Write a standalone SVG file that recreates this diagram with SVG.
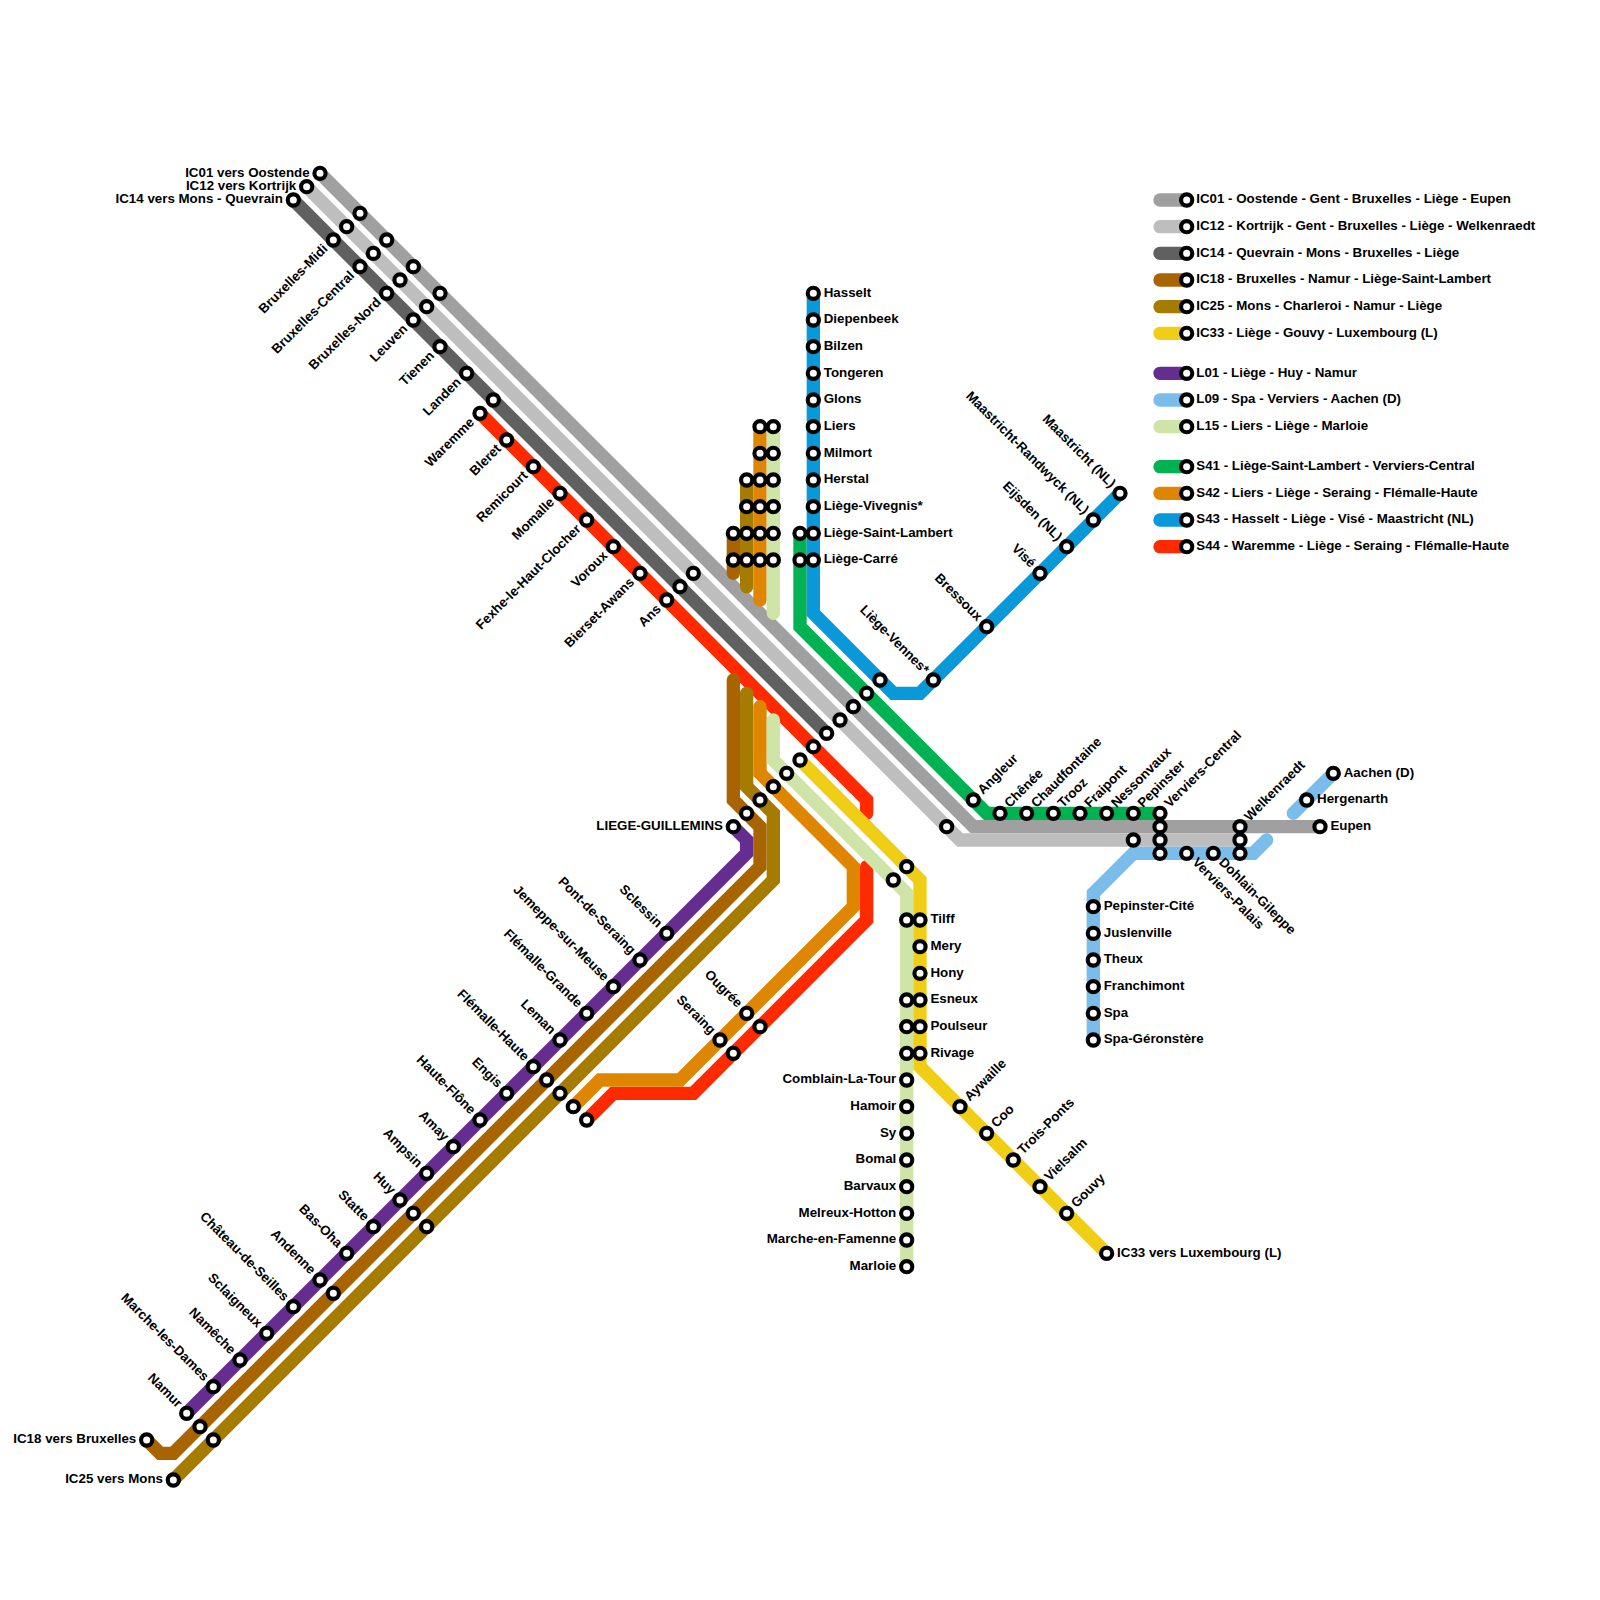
<svg xmlns="http://www.w3.org/2000/svg" width="1600" height="1600" viewBox="0 0 1600 1600">
<style>
.ln{fill:none;stroke-width:1;stroke-linecap:round;stroke-linejoin:miter}
.ic01{stroke:#a0a0a0}.ic12{stroke:#bebebe}.ic14{stroke:#606060}.ic18{stroke:#a86400}.ic25{stroke:#a67c00}.ic33{stroke:#f0ce15}
.l01{stroke:#662d91}.l09{stroke:#7bbdea}.l15{stroke:#cfe4a7}.s41{stroke:#00b251}.s42{stroke:#df8600}.s43{stroke:#0998d8}.s44{stroke:#ff2a00}
.st{fill:#fff;stroke:#000;stroke-width:.31}
text{font-family:"Liberation Sans",Arial,sans-serif;font-weight:700;font-size:1px;fill:#000}
.r{text-anchor:start}.e{text-anchor:end}
</style>
<defs><circle id="s" class="st" r=".42"/></defs>
<g transform="scale(13.33333)">
<g id="connectors">
<path class="ln ic01" d="M24 13L73 62H99"/>
<path class="ln ic12" d="M23 14L72 63H93"/>
<path class="ln ic14" d="M22 15L62 55"/>
<path class="ln s44" d="M36 31L65 60V61"/>
<path class="ln s44" d="M65 65V69L52 82H46L44 84"/>
<path class="ln ic18" d="M55 40V43"/>
<path class="ln ic18" d="M55 51V60L57 62V65L13 109H12L11 108"/>
<path class="ln ic25" d="M56 36V44"/>
<path class="ln ic25" d="M56 52V59L58 61V66L13 111"/>
<path class="ln s42" d="M57 32V45"/>
<path class="ln s42" d="M57 53V58L64 65V68L51 81H45L43 83"/>
<path class="ln l15" d="M58 32V46"/>
<path class="ln l15" d="M58 54V57L68 67V95"/>
<path class="ln ic33" d="M60 57L69 66V80L83 94"/>
<path class="ln l01" d="M55 62L56 63V64L14 106"/>
<path class="ln l09" d="M82 78V67L85 64H94L95 63"/>
<path class="ln l09" d="M97 61L100 58"/>
<path class="ln s41" d="M60 40V47L74 61H87"/>
<path class="ln s43" d="M61 22V46L67 52H69L84 37"/>
</g>
<g id="legend">
<g id="lg-ic01" transform="translate(89 15)"><path class="ln ic01" d="M-2 0H0"/><use href="#s"/><text x=".72" y=".25">IC01 - Oostende - Gent - Bruxelles - Liège - Eupen</text></g>
<g id="lg-ic12" transform="translate(89 17)"><path class="ln ic12" d="M-2 0H0"/><use href="#s"/><text x=".72" y=".25">IC12 - Kortrijk - Gent - Bruxelles - Liège - Welkenraedt</text></g>
<g id="lg-ic14" transform="translate(89 19)"><path class="ln ic14" d="M-2 0H0"/><use href="#s"/><text x=".72" y=".25">IC14 - Quevrain - Mons - Bruxelles - Liège</text></g>
<g id="lg-ic18" transform="translate(89 21)"><path class="ln ic18" d="M-2 0H0"/><use href="#s"/><text x=".72" y=".25">IC18 - Bruxelles - Namur - Liège-Saint-Lambert</text></g>
<g id="lg-ic25" transform="translate(89 23)"><path class="ln ic25" d="M-2 0H0"/><use href="#s"/><text x=".72" y=".25">IC25 - Mons - Charleroi - Namur - Liège</text></g>
<g id="lg-ic33" transform="translate(89 25)"><path class="ln ic33" d="M-2 0H0"/><use href="#s"/><text x=".72" y=".25">IC33 - Liège - Gouvy - Luxembourg (L)</text></g>
<g id="lg-l01" transform="translate(89 28)"><path class="ln l01" d="M-2 0H0"/><use href="#s"/><text x=".72" y=".25">L01 - Liège - Huy - Namur</text></g>
<g id="lg-l09" transform="translate(89 30)"><path class="ln l09" d="M-2 0H0"/><use href="#s"/><text x=".72" y=".25">L09 - Spa - Verviers - Aachen (D)</text></g>
<g id="lg-l15" transform="translate(89 32)"><path class="ln l15" d="M-2 0H0"/><use href="#s"/><text x=".72" y=".25">L15 - Liers - Liège - Marloie</text></g>
<g id="lg-s41" transform="translate(89 35)"><path class="ln s41" d="M-2 0H0"/><use href="#s"/><text x=".72" y=".25">S41 - Liège-Saint-Lambert - Verviers-Central</text></g>
<g id="lg-s42" transform="translate(89 37)"><path class="ln s42" d="M-2 0H0"/><use href="#s"/><text x=".72" y=".25">S42 - Liers - Liège - Seraing - Flémalle-Haute</text></g>
<g id="lg-s43" transform="translate(89 39)"><path class="ln s43" d="M-2 0H0"/><use href="#s"/><text x=".72" y=".25">S43 - Hasselt - Liège - Visé - Maastricht (NL)</text></g>
<g id="lg-s44" transform="translate(89 41)"><path class="ln s44" d="M-2 0H0"/><use href="#s"/><text x=".72" y=".25">S44 - Waremme - Liège - Seraing - Flémalle-Haute</text></g>
</g>
<g id="stations">
<g id="n-ic01-oostende" transform="translate(24 13)"><use href="#s"/><text class="e" x="-.78" y=".25">IC01 vers Oostende</text></g>
<g id="n-ic12-kortrijk" transform="translate(23 14)"><use href="#s"/><text class="e" x="-.78" y=".25">IC12 vers Kortrijk</text></g>
<g id="n-ic14-mons" transform="translate(22 15)"><use href="#s"/><text class="e" x="-.78" y=".25">IC14 vers Mons - Quevrain</text></g>
<g id="n-ic01-a" transform="translate(27 16)"><use href="#s"/></g>
<g id="n-ic01-b" transform="translate(29 18)"><use href="#s"/></g>
<g id="n-ic01-c" transform="translate(31 20)"><use href="#s"/></g>
<g id="n-ic01-d" transform="translate(33 22)"><use href="#s"/></g>
<g id="n-ic12-a" transform="translate(26 17)"><use href="#s"/></g>
<g id="n-ic12-b" transform="translate(28 19)"><use href="#s"/></g>
<g id="n-ic12-c" transform="translate(30 21)"><use href="#s"/></g>
<g id="n-ic12-d" transform="translate(32 23)"><use href="#s"/></g>
<g id="n-bxl-midi" transform="translate(25 18)"><use href="#s"/><text class="e" transform="rotate(-45)" x="-.78" y=".25">Bruxelles-Midi</text></g>
<g id="n-bxl-central" transform="translate(27 20)"><use href="#s"/><text class="e" transform="rotate(-45)" x="-.78" y=".25">Bruxelles-Central</text></g>
<g id="n-bxl-nord" transform="translate(29 22)"><use href="#s"/><text class="e" transform="rotate(-45)" x="-.78" y=".25">Bruxelles-Nord</text></g>
<g id="n-leuven" transform="translate(31 24)"><use href="#s"/><text class="e" transform="rotate(-45)" x="-.78" y=".25">Leuven</text></g>
<g id="n-tienen" transform="translate(33 26)"><use href="#s"/><text class="e" transform="rotate(-45)" x="-.78" y=".25">Tienen</text></g>
<g id="n-landen" transform="translate(35 28)"><use href="#s"/><text class="e" transform="rotate(-45)" x="-.78" y=".25">Landen</text></g>
<g id="n-ic14-waremme" transform="translate(37 30)"><use href="#s"/></g>
<g id="n-waremme" transform="translate(36 31)"><use href="#s"/><text class="e" transform="rotate(-45)" x="-.78" y=".25">Waremme</text></g>
<g id="n-bleret" transform="translate(38 33)"><use href="#s"/><text class="e" transform="rotate(-45)" x="-.78" y=".25">Bleret</text></g>
<g id="n-remicourt" transform="translate(40 35)"><use href="#s"/><text class="e" transform="rotate(-45)" x="-.78" y=".25">Remicourt</text></g>
<g id="n-momalle" transform="translate(42 37)"><use href="#s"/><text class="e" transform="rotate(-45)" x="-.78" y=".25">Momalle</text></g>
<g id="n-fexhe" transform="translate(44 39)"><use href="#s"/><text class="e" transform="rotate(-45)" x="-.78" y=".25">Fexhe-le-Haut-Clocher</text></g>
<g id="n-voroux" transform="translate(46 41)"><use href="#s"/><text class="e" transform="rotate(-45)" x="-.78" y=".25">Voroux</text></g>
<g id="n-bierset" transform="translate(48 43)"><use href="#s"/><text class="e" transform="rotate(-45)" x="-.78" y=".25">Bierset-Awans</text></g>
<g id="n-ans" transform="translate(50 45)"><use href="#s"/><text class="e" transform="rotate(-45)" x="-.78" y=".25">Ans</text></g>
<g id="n-ic14-ans" transform="translate(51 44)"><use href="#s"/></g>
<g id="n-ic12-ans" transform="translate(52 43)"><use href="#s"/></g>
<g id="n-guillemins" transform="translate(55 62)"><use href="#s"/><text class="e" x="-.78" y=".25">LIEGE-GUILLEMINS</text></g>
<g id="n-g-ic18" transform="translate(56 61)"><use href="#s"/></g>
<g id="n-g-ic25" transform="translate(57 60)"><use href="#s"/></g>
<g id="n-g-s42" transform="translate(58 59)"><use href="#s"/></g>
<g id="n-g-l15" transform="translate(59 58)"><use href="#s"/></g>
<g id="n-g-ic33" transform="translate(60 57)"><use href="#s"/></g>
<g id="n-g-s44" transform="translate(61 56)"><use href="#s"/></g>
<g id="n-g-ic14" transform="translate(62 55)"><use href="#s"/></g>
<g id="n-g-ic12" transform="translate(63 54)"><use href="#s"/></g>
<g id="n-g-ic01" transform="translate(64 53)"><use href="#s"/></g>
<g id="n-g-s41" transform="translate(65 52)"><use href="#s"/></g>
<g id="n-g-s43" transform="translate(66 51)"><use href="#s"/></g>
<g id="n-ic18-sl" transform="translate(55 40)"><use href="#s"/></g>
<g id="n-ic18-ca" transform="translate(55 42)"><use href="#s"/></g>
<g id="n-ic25-he" transform="translate(56 36)"><use href="#s"/></g>
<g id="n-ic25-vi" transform="translate(56 38)"><use href="#s"/></g>
<g id="n-ic25-sl" transform="translate(56 40)"><use href="#s"/></g>
<g id="n-ic25-ca" transform="translate(56 42)"><use href="#s"/></g>
<g id="n-s42-li" transform="translate(57 32)"><use href="#s"/></g>
<g id="n-s42-mi" transform="translate(57 34)"><use href="#s"/></g>
<g id="n-s42-he" transform="translate(57 36)"><use href="#s"/></g>
<g id="n-s42-vi" transform="translate(57 38)"><use href="#s"/></g>
<g id="n-s42-sl" transform="translate(57 40)"><use href="#s"/></g>
<g id="n-s42-ca" transform="translate(57 42)"><use href="#s"/></g>
<g id="n-l15-li" transform="translate(58 32)"><use href="#s"/></g>
<g id="n-l15-mi" transform="translate(58 34)"><use href="#s"/></g>
<g id="n-l15-he" transform="translate(58 36)"><use href="#s"/></g>
<g id="n-l15-vi" transform="translate(58 38)"><use href="#s"/></g>
<g id="n-l15-sl" transform="translate(58 40)"><use href="#s"/></g>
<g id="n-l15-ca" transform="translate(58 42)"><use href="#s"/></g>
<g id="n-s41-sl" transform="translate(60 40)"><use href="#s"/></g>
<g id="n-s41-ca" transform="translate(60 42)"><use href="#s"/></g>
<g id="n-hasselt" transform="translate(61 22)"><use href="#s"/><text x=".78" y=".25">Hasselt</text></g>
<g id="n-diepenbeek" transform="translate(61 24)"><use href="#s"/><text x=".78" y=".25">Diepenbeek</text></g>
<g id="n-bilzen" transform="translate(61 26)"><use href="#s"/><text x=".78" y=".25">Bilzen</text></g>
<g id="n-tongeren" transform="translate(61 28)"><use href="#s"/><text x=".78" y=".25">Tongeren</text></g>
<g id="n-glons" transform="translate(61 30)"><use href="#s"/><text x=".78" y=".25">Glons</text></g>
<g id="n-liers" transform="translate(61 32)"><use href="#s"/><text x=".78" y=".25">Liers</text></g>
<g id="n-milmort" transform="translate(61 34)"><use href="#s"/><text x=".78" y=".25">Milmort</text></g>
<g id="n-herstal" transform="translate(61 36)"><use href="#s"/><text x=".78" y=".25">Herstal</text></g>
<g id="n-vivegnis" transform="translate(61 38)"><use href="#s"/><text x=".78" y=".25">Liège-Vivegnis*</text></g>
<g id="n-saint-lambert" transform="translate(61 40)"><use href="#s"/><text x=".78" y=".25">Liège-Saint-Lambert</text></g>
<g id="n-carre" transform="translate(61 42)"><use href="#s"/><text x=".78" y=".25">Liège-Carré</text></g>
<g id="n-vennes" transform="translate(70 51)"><use href="#s"/><text class="e" transform="rotate(45)" x="-.78" y=".25">Liège-Vennes*</text></g>
<g id="n-bressoux" transform="translate(74 47)"><use href="#s"/><text class="e" transform="rotate(45)" x="-.78" y=".25">Bressoux</text></g>
<g id="n-vise" transform="translate(78 43)"><use href="#s"/><text class="e" transform="rotate(45)" x="-.78" y=".25">Visé</text></g>
<g id="n-eijsden" transform="translate(80 41)"><use href="#s"/><text class="e" transform="rotate(45)" x="-.78" y=".25">Eijsden (NL)</text></g>
<g id="n-randwyck" transform="translate(82 39)"><use href="#s"/><text class="e" transform="rotate(45)" x="-.78" y=".25">Maastricht-Randwyck (NL)</text></g>
<g id="n-maastricht" transform="translate(84 37)"><use href="#s"/><text class="e" transform="rotate(45)" x="-.78" y=".25">Maastricht (NL)</text></g>
<g id="n-angleur" transform="translate(73 60)"><use href="#s"/><text transform="rotate(-45)" x=".78" y=".25">Angleur</text></g>
<g id="n-ic12-angleur" transform="translate(71 62)"><use href="#s"/></g>
<g id="n-chenee" transform="translate(75 61)"><use href="#s"/><text transform="rotate(-45)" x=".78" y=".25">Chênée</text></g>
<g id="n-chaudfontaine" transform="translate(77 61)"><use href="#s"/><text transform="rotate(-45)" x=".78" y=".25">Chaudfontaine</text></g>
<g id="n-trooz" transform="translate(79 61)"><use href="#s"/><text transform="rotate(-45)" x=".78" y=".25">Trooz</text></g>
<g id="n-fraipont" transform="translate(81 61)"><use href="#s"/><text transform="rotate(-45)" x=".78" y=".25">Fraipont</text></g>
<g id="n-nessonvaux" transform="translate(83 61)"><use href="#s"/><text transform="rotate(-45)" x=".78" y=".25">Nessonvaux</text></g>
<g id="n-pepinster" transform="translate(85 61)"><use href="#s"/><text transform="rotate(-45)" x=".78" y=".25">Pepinster</text></g>
<g id="n-verviers-central" transform="translate(87 61)"><use href="#s"/><text transform="rotate(-45)" x=".78" y=".25">Verviers-Central</text></g>
<g id="n-vc-ic01" transform="translate(87 62)"><use href="#s"/></g>
<g id="n-vc-ic12" transform="translate(87 63)"><use href="#s"/></g>
<g id="n-vc-l09" transform="translate(87 64)"><use href="#s"/></g>
<g id="n-pep-ic12" transform="translate(85 63)"><use href="#s"/></g>
<g id="n-verviers-palais" transform="translate(89 64)"><use href="#s"/><text transform="rotate(45)" x=".78" y=".25">Verviers-Palais</text></g>
<g id="n-dohlain" transform="translate(91 64)"><use href="#s"/><text transform="rotate(45)" x=".78" y=".25">Dohlain-Gileppe</text></g>
<g id="n-welkenraedt" transform="translate(93 62)"><use href="#s"/><text transform="rotate(-45)" x=".78" y=".25">Welkenraedt</text></g>
<g id="n-wk-ic12" transform="translate(93 63)"><use href="#s"/></g>
<g id="n-wk-l09" transform="translate(93 64)"><use href="#s"/></g>
<g id="n-eupen" transform="translate(99 62)"><use href="#s"/><text x=".78" y=".25">Eupen</text></g>
<g id="n-hergenarth" transform="translate(98 60)"><use href="#s"/><text x=".78" y=".25">Hergenarth</text></g>
<g id="n-aachen" transform="translate(100 58)"><use href="#s"/><text x=".78" y=".25">Aachen (D)</text></g>
<g id="n-pepinster-cite" transform="translate(82 68)"><use href="#s"/><text x=".78" y=".25">Pepinster-Cité</text></g>
<g id="n-juslenville" transform="translate(82 70)"><use href="#s"/><text x=".78" y=".25">Juslenville</text></g>
<g id="n-theux" transform="translate(82 72)"><use href="#s"/><text x=".78" y=".25">Theux</text></g>
<g id="n-franchimont" transform="translate(82 74)"><use href="#s"/><text x=".78" y=".25">Franchimont</text></g>
<g id="n-spa" transform="translate(82 76)"><use href="#s"/><text x=".78" y=".25">Spa</text></g>
<g id="n-spa-geronstere" transform="translate(82 78)"><use href="#s"/><text x=".78" y=".25">Spa-Géronstère</text></g>
<g id="n-angleur-ic33" transform="translate(68 65)"><use href="#s"/></g>
<g id="n-angleur-l15" transform="translate(67 66)"><use href="#s"/></g>
<g id="n-tilff" transform="translate(69 69)"><use href="#s"/><text x=".78" y=".25">Tilff</text></g>
<g id="n-mery" transform="translate(69 71)"><use href="#s"/><text x=".78" y=".25">Mery</text></g>
<g id="n-hony" transform="translate(69 73)"><use href="#s"/><text x=".78" y=".25">Hony</text></g>
<g id="n-esneux" transform="translate(69 75)"><use href="#s"/><text x=".78" y=".25">Esneux</text></g>
<g id="n-poulseur" transform="translate(69 77)"><use href="#s"/><text x=".78" y=".25">Poulseur</text></g>
<g id="n-rivage" transform="translate(69 79)"><use href="#s"/><text x=".78" y=".25">Rivage</text></g>
<g id="n-l15-tilff" transform="translate(68 69)"><use href="#s"/></g>
<g id="n-l15-esneux" transform="translate(68 75)"><use href="#s"/></g>
<g id="n-l15-poulseur" transform="translate(68 77)"><use href="#s"/></g>
<g id="n-l15-rivage" transform="translate(68 79)"><use href="#s"/></g>
<g id="n-comblain" transform="translate(68 81)"><use href="#s"/><text class="e" x="-.78" y=".25">Comblain-La-Tour</text></g>
<g id="n-hamoir" transform="translate(68 83)"><use href="#s"/><text class="e" x="-.78" y=".25">Hamoir</text></g>
<g id="n-sy" transform="translate(68 85)"><use href="#s"/><text class="e" x="-.78" y=".25">Sy</text></g>
<g id="n-bomal" transform="translate(68 87)"><use href="#s"/><text class="e" x="-.78" y=".25">Bomal</text></g>
<g id="n-barvaux" transform="translate(68 89)"><use href="#s"/><text class="e" x="-.78" y=".25">Barvaux</text></g>
<g id="n-melreux" transform="translate(68 91)"><use href="#s"/><text class="e" x="-.78" y=".25">Melreux-Hotton</text></g>
<g id="n-marche" transform="translate(68 93)"><use href="#s"/><text class="e" x="-.78" y=".25">Marche-en-Famenne</text></g>
<g id="n-marloie" transform="translate(68 95)"><use href="#s"/><text class="e" x="-.78" y=".25">Marloie</text></g>
<g id="n-aywaille" transform="translate(72 83)"><use href="#s"/><text transform="rotate(-45)" x=".78" y=".25">Aywaille</text></g>
<g id="n-coo" transform="translate(74 85)"><use href="#s"/><text transform="rotate(-45)" x=".78" y=".25">Coo</text></g>
<g id="n-trois-ponts" transform="translate(76 87)"><use href="#s"/><text transform="rotate(-45)" x=".78" y=".25">Trois-Ponts</text></g>
<g id="n-vielsalm" transform="translate(78 89)"><use href="#s"/><text transform="rotate(-45)" x=".78" y=".25">Vielsalm</text></g>
<g id="n-gouvy" transform="translate(80 91)"><use href="#s"/><text transform="rotate(-45)" x=".78" y=".25">Gouvy</text></g>
<g id="n-ic33-lux" transform="translate(83 94)"><use href="#s"/><text x=".78" y=".25">IC33 vers Luxembourg (L)</text></g>
<g id="n-ougree" transform="translate(56 76)"><use href="#s"/><text class="e" transform="rotate(45)" x="-.78" y=".25">Ougrée</text></g>
<g id="n-seraing" transform="translate(54 78)"><use href="#s"/><text class="e" transform="rotate(45)" x="-.78" y=".25">Seraing</text></g>
<g id="n-s44-ougree" transform="translate(57 77)"><use href="#s"/></g>
<g id="n-s44-seraing" transform="translate(55 79)"><use href="#s"/></g>
<g id="n-s42-fh" transform="translate(43 83)"><use href="#s"/></g>
<g id="n-s44-fh" transform="translate(44 84)"><use href="#s"/></g>
<g id="n-ic18-fh" transform="translate(41 81)"><use href="#s"/></g>
<g id="n-ic25-fh" transform="translate(42 82)"><use href="#s"/></g>
<g id="n-ic18-huy" transform="translate(31 91)"><use href="#s"/></g>
<g id="n-ic25-huy" transform="translate(32 92)"><use href="#s"/></g>
<g id="n-ic18-andenne" transform="translate(25 97)"><use href="#s"/></g>
<g id="n-ic18-namur" transform="translate(15 107)"><use href="#s"/></g>
<g id="n-ic25-namur" transform="translate(16 108)"><use href="#s"/></g>
<g id="n-ic18-bxl" transform="translate(11 108)"><use href="#s"/><text class="e" x="-.78" y=".25">IC18 vers Bruxelles</text></g>
<g id="n-ic25-mons" transform="translate(13 111)"><use href="#s"/><text class="e" x="-.78" y=".25">IC25 vers Mons</text></g>
<g id="n-sclessin" transform="translate(50 70)"><use href="#s"/><text class="e" transform="rotate(45)" x="-.78" y=".25">Sclessin</text></g>
<g id="n-pont-seraing" transform="translate(48 72)"><use href="#s"/><text class="e" transform="rotate(45)" x="-.78" y=".25">Pont-de-Seraing</text></g>
<g id="n-jemeppe" transform="translate(46 74)"><use href="#s"/><text class="e" transform="rotate(45)" x="-.78" y=".25">Jemeppe-sur-Meuse</text></g>
<g id="n-flemalle-grande" transform="translate(44 76)"><use href="#s"/><text class="e" transform="rotate(45)" x="-.78" y=".25">Flémalle-Grande</text></g>
<g id="n-leman" transform="translate(42 78)"><use href="#s"/><text class="e" transform="rotate(45)" x="-.78" y=".25">Leman</text></g>
<g id="n-flemalle-haute" transform="translate(40 80)"><use href="#s"/><text class="e" transform="rotate(45)" x="-.78" y=".25">Flémalle-Haute</text></g>
<g id="n-engis" transform="translate(38 82)"><use href="#s"/><text class="e" transform="rotate(45)" x="-.78" y=".25">Engis</text></g>
<g id="n-haute-flone" transform="translate(36 84)"><use href="#s"/><text class="e" transform="rotate(45)" x="-.78" y=".25">Haute-Flône</text></g>
<g id="n-amay" transform="translate(34 86)"><use href="#s"/><text class="e" transform="rotate(45)" x="-.78" y=".25">Amay</text></g>
<g id="n-ampsin" transform="translate(32 88)"><use href="#s"/><text class="e" transform="rotate(45)" x="-.78" y=".25">Ampsin</text></g>
<g id="n-huy" transform="translate(30 90)"><use href="#s"/><text class="e" transform="rotate(45)" x="-.78" y=".25">Huy</text></g>
<g id="n-statte" transform="translate(28 92)"><use href="#s"/><text class="e" transform="rotate(45)" x="-.78" y=".25">Statte</text></g>
<g id="n-bas-oha" transform="translate(26 94)"><use href="#s"/><text class="e" transform="rotate(45)" x="-.78" y=".25">Bas-Oha</text></g>
<g id="n-andenne" transform="translate(24 96)"><use href="#s"/><text class="e" transform="rotate(45)" x="-.78" y=".25">Andenne</text></g>
<g id="n-chateau-seilles" transform="translate(22 98)"><use href="#s"/><text class="e" transform="rotate(45)" x="-.78" y=".25">Château-de-Seilles</text></g>
<g id="n-sclaigneux" transform="translate(20 100)"><use href="#s"/><text class="e" transform="rotate(45)" x="-.78" y=".25">Sclaigneux</text></g>
<g id="n-nameche" transform="translate(18 102)"><use href="#s"/><text class="e" transform="rotate(45)" x="-.78" y=".25">Namêche</text></g>
<g id="n-marche-dames" transform="translate(16 104)"><use href="#s"/><text class="e" transform="rotate(45)" x="-.78" y=".25">Marche-les-Dames</text></g>
<g id="n-namur" transform="translate(14 106)"><use href="#s"/><text class="e" transform="rotate(45)" x="-.78" y=".25">Namur</text></g>
</g>
</g>
</svg>
